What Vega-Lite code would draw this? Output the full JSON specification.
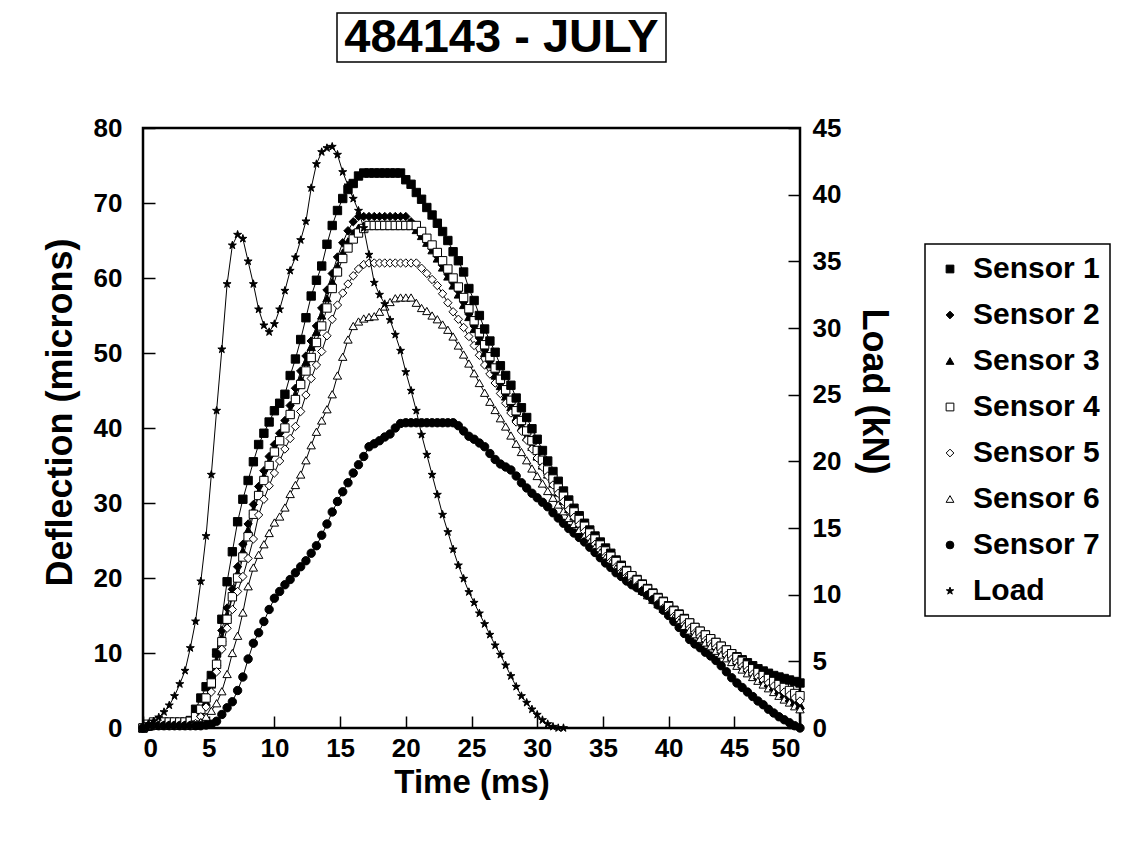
{
  "$schema": "https://vega.github.io/schema/vega-lite/v6.json",
  "background": "white",
  "padding": {"left": 40, "top": 12, "right": 5, "bottom": 5},
  "config": {
    "font": "Liberation Sans",
    "view": {"stroke": null},
    "axis": {"domain": false, "grid": false, "ticks": true, "tickColor": "black", "tickWidth": 1.5, "tickSize": -12, "labelFont": "Liberation Sans", "labelFontSize": 26, "labelFontWeight": "bold", "labelColor": "black", "titleFont": "Liberation Sans", "titleFontWeight": "bold", "titleColor": "black", "titleFontSize": 36},
    "axisLeft": {"labelPadding": 33, "titlePadding": 14},
    "axisRight": {"labelPadding": 24, "titlePadding": 14},
    "axisBottom": {"labelPadding": 19, "titlePadding": 5, "titleFontSize": 33},
    "legend": {"strokeColor": "black", "strokeWidth": 1.5, "padding": 10, "labelFont": "Liberation Sans", "labelFontSize": 30, "labelFontWeight": "bold", "labelColor": "black", "symbolSize": 60, "symbolStrokeColor": "black", "symbolStrokeWidth": 1, "rowPadding": 16}
  },
  "resolve": {"scale": {"shape": "independent", "fill": "independent", "stroke": "independent"}},
  "datasets": {
    "d": [
      {"t":0,"s1":0,"s2":0,"s3":0,"s4":0,"s5":0,"s6":0,"s7":0,"L":0},
      {"t":0.4,"s1":0.3,"s2":0.3,"s3":0.2,"s4":0.5,"s5":0.3,"s6":0.2,"s7":0.2,"L":0.3},
      {"t":0.8,"s1":0.5,"s2":0.4,"s3":0.3,"s4":0.8,"s5":0.4,"s6":0.3,"s7":0.3,"L":0.5},
      {"t":1.2,"s1":0.5,"s2":0.4,"s3":0.3,"s4":0.8,"s5":0.4,"s6":0.3,"s7":0.3,"L":0.8},
      {"t":1.6,"s1":0.6,"s2":0.4,"s3":0.3,"s4":0.8,"s5":0.4,"s6":0.3,"s7":0.3,"L":1.2},
      {"t":2.0,"s1":0.6,"s2":0.4,"s3":0.3,"s4":0.8,"s5":0.4,"s6":0.3,"s7":0.3,"L":1.7},
      {"t":2.4,"s1":0.6,"s2":0.5,"s3":0.3,"s4":0.8,"s5":0.4,"s6":0.3,"s7":0.3,"L":2.4},
      {"t":2.8,"s1":0.6,"s2":0.5,"s3":0.3,"s4":0.8,"s5":0.4,"s6":0.3,"s7":0.3,"L":3.3},
      {"t":3.2,"s1":0.7,"s2":0.5,"s3":0.4,"s4":0.8,"s5":0.4,"s6":0.3,"s7":0.3,"L":4.3},
      {"t":3.6,"s1":1.0,"s2":0.6,"s3":0.4,"s4":0.9,"s5":0.4,"s6":0.3,"s7":0.3,"L":6.0},
      {"t":4.0,"s1":2.5,"s2":1.0,"s3":0.8,"s4":1.5,"s5":0.6,"s6":0.3,"s7":0.3,"L":8.0},
      {"t":4.4,"s1":4.0,"s2":2.5,"s3":2.0,"s4":2.5,"s5":1.5,"s6":0.8,"s7":0.3,"L":11.0},
      {"t":4.8,"s1":5.5,"s2":4.0,"s3":3.5,"s4":4.0,"s5":2.8,"s6":1.5,"s7":0.4,"L":14.4},
      {"t":5.2,"s1":7.0,"s2":6.5,"s3":5.8,"s4":6.0,"s5":4.8,"s6":2.3,"s7":0.5,"L":19.0},
      {"t":5.6,"s1":10.0,"s2":9.8,"s3":8.8,"s4":8.5,"s5":7.5,"s6":3.3,"s7":0.9,"L":23.8},
      {"t":6.0,"s1":14.5,"s2":13.0,"s3":12.0,"s4":11.5,"s5":10.5,"s6":4.9,"s7":1.8,"L":28.4},
      {"t":6.4,"s1":19.5,"s2":16.0,"s3":15.0,"s4":14.5,"s5":13.3,"s6":7.2,"s7":2.7,"L":33.3},
      {"t":6.8,"s1":23.5,"s2":18.5,"s3":17.8,"s4":17.5,"s5":15.8,"s6":10.0,"s7":3.5,"L":36.2},
      {"t":7.2,"s1":27.5,"s2":21.5,"s3":20.6,"s4":20.0,"s5":18.2,"s6":12.3,"s7":5.0,"L":37.0},
      {"t":7.6,"s1":30.5,"s2":24.5,"s3":23.6,"s4":22.8,"s5":20.2,"s6":15.4,"s7":6.8,"L":36.7},
      {"t":8.0,"s1":33.0,"s2":27.2,"s3":26.4,"s4":25.5,"s5":22.6,"s6":18.9,"s7":9.2,"L":35.0},
      {"t":8.4,"s1":35.5,"s2":29.8,"s3":29.0,"s4":28.5,"s5":25.2,"s6":21.4,"s7":11.3,"L":33.3},
      {"t":8.8,"s1":37.8,"s2":32.2,"s3":31.4,"s4":31.0,"s5":28.4,"s6":23.1,"s7":12.7,"L":31.4},
      {"t":9.2,"s1":39.3,"s2":34.3,"s3":33.5,"s4":33.0,"s5":30.5,"s6":24.5,"s7":14.2,"L":30.2},
      {"t":9.6,"s1":40.8,"s2":36.2,"s3":35.4,"s4":35.0,"s5":32.3,"s6":26.0,"s7":15.8,"L":29.7},
      {"t":10.0,"s1":42.3,"s2":37.8,"s3":37.0,"s4":36.8,"s5":34.0,"s6":27.4,"s7":17.3,"L":30.3},
      {"t":10.4,"s1":43.3,"s2":39.3,"s3":38.6,"s4":38.3,"s5":35.6,"s6":28.2,"s7":18.2,"L":31.4},
      {"t":10.8,"s1":44.5,"s2":41.0,"s3":40.3,"s4":40.0,"s5":37.2,"s6":29.4,"s7":19.1,"L":32.8},
      {"t":11.2,"s1":47.0,"s2":43.0,"s3":42.2,"s4":41.8,"s5":38.6,"s6":31.2,"s7":19.8,"L":34.3},
      {"t":11.6,"s1":49.2,"s2":45.3,"s3":44.4,"s4":43.8,"s5":40.2,"s6":32.4,"s7":20.7,"L":35.3},
      {"t":12.0,"s1":51.8,"s2":47.6,"s3":46.6,"s4":45.8,"s5":42.2,"s6":33.8,"s7":21.5,"L":36.6},
      {"t":12.4,"s1":54.7,"s2":49.6,"s3":48.8,"s4":47.6,"s5":44.4,"s6":35.7,"s7":22.3,"L":38.0},
      {"t":12.8,"s1":57.6,"s2":51.6,"s3":50.8,"s4":49.4,"s5":46.6,"s6":37.7,"s7":23.3,"L":40.5},
      {"t":13.2,"s1":59.7,"s2":53.6,"s3":52.8,"s4":51.4,"s5":48.4,"s6":39.5,"s7":24.3,"L":42.3},
      {"t":13.6,"s1":61.6,"s2":56.0,"s3":55.0,"s4":53.6,"s5":50.2,"s6":41.0,"s7":25.7,"L":43.2},
      {"t":14.0,"s1":64.5,"s2":58.4,"s3":57.3,"s4":56.0,"s5":52.3,"s6":42.5,"s7":27.2,"L":43.5},
      {"t":14.4,"s1":67.0,"s2":60.6,"s3":59.5,"s4":58.6,"s5":54.5,"s6":44.5,"s7":28.8,"L":43.6},
      {"t":14.8,"s1":69.0,"s2":62.8,"s3":61.6,"s4":60.8,"s5":56.4,"s6":47.0,"s7":30.2,"L":43.0},
      {"t":15.2,"s1":70.6,"s2":64.7,"s3":63.4,"s4":62.6,"s5":58.0,"s6":49.5,"s7":31.5,"L":41.7},
      {"t":15.6,"s1":71.8,"s2":66.3,"s3":64.9,"s4":64.0,"s5":59.2,"s6":51.8,"s7":32.7,"L":40.7},
      {"t":16.0,"s1":72.6,"s2":67.5,"s3":66.0,"s4":65.2,"s5":60.3,"s6":53.6,"s7":34.0,"L":39.7},
      {"t":16.4,"s1":73.6,"s2":68.2,"s3":66.7,"s4":66.0,"s5":61.2,"s6":54.2,"s7":35.1,"L":38.8},
      {"t":16.8,"s1":74.0,"s2":68.2,"s3":67.0,"s4":66.6,"s5":61.8,"s6":54.6,"s7":36.2,"L":37.5},
      {"t":17.2,"s1":74.0,"s2":68.2,"s3":67.0,"s4":67.0,"s5":62.0,"s6":54.8,"s7":37.5,"L":35.5},
      {"t":17.6,"s1":74.0,"s2":68.2,"s3":67.0,"s4":67.0,"s5":62.0,"s6":54.9,"s7":37.9,"L":33.4},
      {"t":18.0,"s1":74.0,"s2":68.2,"s3":67.0,"s4":67.0,"s5":62.0,"s6":55.5,"s7":38.3,"L":32.5},
      {"t":18.4,"s1":74.0,"s2":68.2,"s3":67.0,"s4":67.0,"s5":62.0,"s6":56.2,"s7":38.8,"L":31.8},
      {"t":18.8,"s1":74.0,"s2":68.2,"s3":67.0,"s4":67.0,"s5":62.0,"s6":56.8,"s7":39.2,"L":30.6},
      {"t":19.2,"s1":74.0,"s2":68.2,"s3":67.0,"s4":67.0,"s5":62.0,"s6":57.3,"s7":40.0,"L":29.5},
      {"t":19.6,"s1":74.0,"s2":68.2,"s3":67.0,"s4":67.0,"s5":62.0,"s6":57.4,"s7":40.6,"L":28.3},
      {"t":20.0,"s1":73.1,"s2":68.2,"s3":67.0,"s4":67.0,"s5":62.0,"s6":57.4,"s7":40.7,"L":26.7},
      {"t":20.4,"s1":72.5,"s2":67.5,"s3":67.0,"s4":67.0,"s5":62.0,"s6":57.4,"s7":40.7,"L":25.3},
      {"t":20.8,"s1":71.4,"s2":66.6,"s3":66.4,"s4":67.0,"s5":62.0,"s6":56.7,"s7":40.7,"L":23.8},
      {"t":21.2,"s1":70.5,"s2":65.7,"s3":65.6,"s4":66.2,"s5":61.3,"s6":56.0,"s7":40.7,"L":22.0},
      {"t":21.6,"s1":69.4,"s2":64.8,"s3":64.7,"s4":65.3,"s5":60.6,"s6":55.6,"s7":40.7,"L":20.5},
      {"t":22.0,"s1":68.4,"s2":63.9,"s3":63.7,"s4":64.4,"s5":59.8,"s6":55.0,"s7":40.7,"L":19.0},
      {"t":22.4,"s1":67.3,"s2":62.9,"s3":62.6,"s4":63.4,"s5":59.0,"s6":54.5,"s7":40.7,"L":17.5},
      {"t":22.8,"s1":66.2,"s2":61.7,"s3":61.4,"s4":62.3,"s5":57.9,"s6":53.8,"s7":40.7,"L":16.0},
      {"t":23.2,"s1":65.0,"s2":60.5,"s3":60.2,"s4":61.2,"s5":56.7,"s6":53.1,"s7":40.7,"L":14.7},
      {"t":23.6,"s1":63.5,"s2":59.4,"s3":59.0,"s4":60.0,"s5":55.5,"s6":52.2,"s7":40.7,"L":13.4},
      {"t":24.0,"s1":62.3,"s2":58.3,"s3":57.8,"s4":58.8,"s5":54.5,"s6":51.0,"s7":40.3,"L":12.2},
      {"t":24.4,"s1":60.8,"s2":56.8,"s3":56.4,"s4":57.4,"s5":53.4,"s6":49.8,"s7":39.6,"L":11.2},
      {"t":24.8,"s1":58.6,"s2":55.2,"s3":54.8,"s4":55.9,"s5":52.2,"s6":48.6,"s7":38.9,"L":10.2},
      {"t":25.2,"s1":57.0,"s2":53.6,"s3":53.2,"s4":54.3,"s5":51.0,"s6":47.3,"s7":38.5,"L":9.4},
      {"t":25.6,"s1":55.0,"s2":52.0,"s3":51.6,"s4":52.7,"s5":49.7,"s6":46.0,"s7":38.0,"L":8.6},
      {"t":26.0,"s1":53.2,"s2":50.4,"s3":50.0,"s4":51.1,"s5":48.4,"s6":44.7,"s7":37.5,"L":7.8},
      {"t":26.4,"s1":51.6,"s2":48.9,"s3":48.5,"s4":49.5,"s5":47.2,"s6":43.5,"s7":36.6,"L":7.0},
      {"t":26.8,"s1":50.1,"s2":47.4,"s3":47.0,"s4":48.0,"s5":46.0,"s6":42.4,"s7":35.8,"L":6.2},
      {"t":27.2,"s1":48.3,"s2":46.0,"s3":45.6,"s4":46.5,"s5":44.6,"s6":41.3,"s7":35.2,"L":5.5},
      {"t":27.6,"s1":47.0,"s2":44.6,"s3":44.2,"s4":45.1,"s5":43.3,"s6":40.2,"s7":34.8,"L":4.7},
      {"t":28.0,"s1":45.7,"s2":43.2,"s3":42.8,"s4":43.7,"s5":42.0,"s6":39.0,"s7":34.4,"L":3.9},
      {"t":28.4,"s1":44.0,"s2":41.8,"s3":41.4,"s4":42.3,"s5":40.8,"s6":37.9,"s7":33.6,"L":3.1},
      {"t":28.8,"s1":42.7,"s2":40.6,"s3":40.1,"s4":41.0,"s5":39.6,"s6":36.8,"s7":32.7,"L":2.4},
      {"t":29.2,"s1":41.4,"s2":39.3,"s3":38.8,"s4":39.6,"s5":38.4,"s6":35.7,"s7":32.0,"L":1.9},
      {"t":29.6,"s1":39.9,"s2":38.0,"s3":37.5,"s4":38.3,"s5":37.2,"s6":34.6,"s7":31.3,"L":1.4},
      {"t":30.0,"s1":38.5,"s2":36.7,"s3":36.2,"s4":37.0,"s5":36.0,"s6":33.6,"s7":30.7,"L":1.0},
      {"t":30.4,"s1":37.0,"s2":35.4,"s3":35.0,"s4":35.7,"s5":34.8,"s6":32.6,"s7":30.1,"L":0.6},
      {"t":30.8,"s1":35.6,"s2":34.1,"s3":33.8,"s4":34.4,"s5":33.6,"s6":31.6,"s7":29.5,"L":0.3},
      {"t":31.2,"s1":34.2,"s2":32.9,"s3":32.6,"s4":33.2,"s5":32.4,"s6":30.7,"s7":28.7,"L":0.1},
      {"t":31.6,"s1":32.9,"s2":31.7,"s3":31.4,"s4":32.0,"s5":31.3,"s6":29.8,"s7":28.0,"L":0.0},
      {"t":32.0,"s1":31.6,"s2":30.6,"s3":30.3,"s4":30.9,"s5":30.2,"s6":28.9,"s7":27.3,"L":0.0},
      {"t":32.4,"s1":30.4,"s2":29.5,"s3":29.2,"s4":29.8,"s5":29.1,"s6":28.0,"s7":26.6},
      {"t":32.8,"s1":29.3,"s2":28.4,"s3":28.2,"s4":28.8,"s5":28.1,"s6":27.2,"s7":26.0},
      {"t":33.2,"s1":28.3,"s2":27.4,"s3":27.2,"s4":27.8,"s5":27.1,"s6":26.4,"s7":25.4},
      {"t":33.6,"s1":27.3,"s2":26.5,"s3":26.3,"s4":26.9,"s5":26.2,"s6":25.6,"s7":24.8},
      {"t":34.0,"s1":26.4,"s2":25.6,"s3":25.4,"s4":26.0,"s5":25.3,"s6":24.8,"s7":24.1},
      {"t":34.4,"s1":25.6,"s2":24.8,"s3":24.6,"s4":25.2,"s5":24.5,"s6":24.1,"s7":23.4},
      {"t":34.8,"s1":24.8,"s2":24.0,"s3":23.8,"s4":24.4,"s5":23.7,"s6":23.4,"s7":22.7},
      {"t":35.2,"s1":24.0,"s2":23.2,"s3":23.0,"s4":23.6,"s5":22.9,"s6":22.7,"s7":22.0},
      {"t":35.6,"s1":23.3,"s2":22.5,"s3":22.3,"s4":22.9,"s5":22.2,"s6":22.0,"s7":21.4},
      {"t":36.0,"s1":22.4,"s2":21.8,"s3":21.6,"s4":22.2,"s5":21.5,"s6":21.3,"s7":20.7},
      {"t":36.4,"s1":21.7,"s2":21.1,"s3":21.0,"s4":21.5,"s5":20.8,"s6":20.7,"s7":20.2},
      {"t":36.8,"s1":21.0,"s2":20.4,"s3":20.4,"s4":20.9,"s5":20.2,"s6":20.1,"s7":19.6},
      {"t":37.2,"s1":20.3,"s2":19.8,"s3":19.8,"s4":20.3,"s5":19.6,"s6":19.5,"s7":19.1},
      {"t":37.6,"s1":19.8,"s2":19.2,"s3":19.2,"s4":19.7,"s5":19.0,"s6":18.9,"s7":18.7},
      {"t":38.0,"s1":19.2,"s2":18.6,"s3":18.6,"s4":19.1,"s5":18.4,"s6":18.3,"s7":18.2},
      {"t":38.4,"s1":18.6,"s2":18.0,"s3":18.0,"s4":18.5,"s5":17.8,"s6":17.7,"s7":17.7},
      {"t":38.8,"s1":18.0,"s2":17.4,"s3":17.5,"s4":17.9,"s5":17.2,"s6":17.1,"s7":17.1},
      {"t":39.2,"s1":17.4,"s2":16.8,"s3":17.0,"s4":17.3,"s5":16.6,"s6":16.5,"s7":16.4},
      {"t":39.6,"s1":16.9,"s2":16.2,"s3":16.4,"s4":16.8,"s5":16.0,"s6":15.9,"s7":15.7},
      {"t":40.0,"s1":16.3,"s2":15.6,"s3":15.9,"s4":16.2,"s5":15.5,"s6":15.3,"s7":15.0},
      {"t":40.4,"s1":15.7,"s2":15.0,"s3":15.3,"s4":15.6,"s5":14.9,"s6":14.7,"s7":14.2},
      {"t":40.8,"s1":15.2,"s2":14.4,"s3":14.8,"s4":15.1,"s5":14.4,"s6":14.1,"s7":13.4},
      {"t":41.2,"s1":14.6,"s2":13.8,"s3":14.2,"s4":14.5,"s5":13.8,"s6":13.6,"s7":12.6},
      {"t":41.6,"s1":14.0,"s2":13.2,"s3":13.7,"s4":14.0,"s5":13.3,"s6":13.0,"s7":11.8},
      {"t":42.0,"s1":13.4,"s2":12.6,"s3":13.1,"s4":13.4,"s5":12.7,"s6":12.5,"s7":11.2},
      {"t":42.4,"s1":12.9,"s2":12.1,"s3":12.6,"s4":12.9,"s5":12.2,"s6":11.9,"s7":10.7},
      {"t":42.8,"s1":12.4,"s2":11.6,"s3":12.1,"s4":12.4,"s5":11.7,"s6":11.4,"s7":10.1},
      {"t":43.2,"s1":11.9,"s2":11.1,"s3":11.5,"s4":11.9,"s5":11.2,"s6":10.9,"s7":9.6},
      {"t":43.6,"s1":11.4,"s2":10.6,"s3":11.0,"s4":11.4,"s5":10.7,"s6":10.3,"s7":9.0},
      {"t":44.0,"s1":10.9,"s2":10.1,"s3":10.5,"s4":10.9,"s5":10.2,"s6":9.8,"s7":8.3},
      {"t":44.4,"s1":10.4,"s2":9.6,"s3":10.0,"s4":10.4,"s5":9.7,"s6":9.3,"s7":7.5},
      {"t":44.8,"s1":9.9,"s2":9.1,"s3":9.5,"s4":9.9,"s5":9.2,"s6":8.8,"s7":6.7},
      {"t":45.2,"s1":9.5,"s2":8.6,"s3":9.0,"s4":9.4,"s5":8.7,"s6":8.3,"s7":6.0},
      {"t":45.6,"s1":9.1,"s2":8.1,"s3":8.5,"s4":8.9,"s5":8.2,"s6":7.8,"s7":5.4},
      {"t":46.0,"s1":8.7,"s2":7.6,"s3":8.0,"s4":8.4,"s5":7.7,"s6":7.3,"s7":4.8},
      {"t":46.4,"s1":8.3,"s2":7.1,"s3":7.5,"s4":7.9,"s5":7.2,"s6":6.8,"s7":4.2},
      {"t":46.8,"s1":7.9,"s2":6.6,"s3":7.0,"s4":7.4,"s5":6.8,"s6":6.3,"s7":3.6},
      {"t":47.2,"s1":7.6,"s2":6.1,"s3":6.5,"s4":7.0,"s5":6.4,"s6":5.8,"s7":3.1},
      {"t":47.6,"s1":7.3,"s2":5.6,"s3":6.0,"s4":6.6,"s5":6.0,"s6":5.3,"s7":2.5},
      {"t":48.0,"s1":7.0,"s2":5.1,"s3":5.5,"s4":6.2,"s5":5.6,"s6":4.8,"s7":2.0},
      {"t":48.4,"s1":6.8,"s2":4.6,"s3":5.0,"s4":5.8,"s5":5.2,"s6":4.3,"s7":1.5},
      {"t":48.8,"s1":6.6,"s2":4.1,"s3":4.5,"s4":5.4,"s5":4.8,"s6":3.8,"s7":1.1},
      {"t":49.2,"s1":6.4,"s2":3.6,"s3":4.0,"s4":5.0,"s5":4.4,"s6":3.4,"s7":0.7},
      {"t":49.6,"s1":6.2,"s2":3.1,"s3":3.5,"s4":4.6,"s5":4.0,"s6":2.9,"s7":0.3},
      {"t":50.0,"s1":6.0,"s2":2.6,"s3":3.1,"s4":4.3,"s5":3.6,"s6":2.5,"s7":0.0}
    ]
  },
  "spacing": 50,
  "vconcat": [
    {
      "spacing": 0,
      "hconcat": [
        {
          "width": 193, "height": 49,
          "view": {"stroke": null},
          "data": {"values": [{"a": 1}]},
          "mark": {"type": "point", "opacity": 0}
        },
        {
          "width": 329, "height": 49,
          "view": {"stroke": "black", "strokeWidth": 1.5},
          "data": {"values": [{"label": "484143 - JULY"}]},
          "mark": {"type": "text", "font": "Liberation Sans", "fontSize": 47, "fontWeight": "bold", "color": "black", "align": "center", "baseline": "middle"},
          "encoding": {"text": {"field": "label", "type": "nominal"}}
        }
      ]
    },
    {
      "width": 657, "height": 600,
      "view": {"stroke": "black", "strokeWidth": 2.5},
      "data": {"name": "d"},
      "transform": [{"fold": ["s1", "s2", "s3", "s4", "s5", "s6", "s7", "L"], "as": ["series", "value"]}],
      "encoding": {
        "x": {"field": "t", "type": "quantitative", "scale": {"domain": [0, 50], "nice": false}, "axis": {"title": "Time (ms)", "values": [0, 5, 10, 15, 20, 25, 30, 35, 40, 45, 50]}}
      },
      "layer": [
        {
          "transform": [{"filter": "datum.series != 'L'"}],
          "encoding": {"y": {"field": "value", "type": "quantitative", "scale": {"domain": [0, 80], "nice": false}, "axis": {"title": "Deflection (microns)", "titleY": 284, "values": [0, 10, 20, 30, 40, 50, 60, 70, 80]}}},
          "layer": [
            {"mark": {"type": "line", "color": "black", "strokeWidth": 1}, "encoding": {"detail": {"field": "series", "type": "nominal"}}},
            {
              "mark": {"type": "point", "filled": true, "size": 70, "opacity": 1, "strokeWidth": 1},
              "encoding": {
                "stroke": {"field": "series", "type": "nominal", "scale": {"domain": ["s1", "s2", "s3", "s4", "s5", "s6", "s7", "L"], "range": ["black", "black", "black", "black", "black", "black", "black", "black"]},
                  "legend": {"title": null, "orient": "none", "legendX": 782, "legendY": 116, "labelOffset": 8, "labelExpr": "datum.label == 'L' ? 'Load' : 'Sensor ' + substring(datum.label, 1)"}},
                "shape": {"field": "series", "type": "nominal", "scale": {"domain": ["s1", "s2", "s3", "s4", "s5", "s6", "s7", "L"], "range": ["square", "diamond", "triangle-up", "square", "diamond", "triangle-up", "circle", "M0,-1L0.2245,-0.309L0.9511,-0.309L0.3633,0.118L0.5878,0.809L0,0.382L-0.5878,0.809L-0.3633,0.118L-0.9511,-0.309L-0.2245,-0.309Z"]},
                  "legend": {"title": null, "orient": "none", "legendX": 782, "legendY": 116, "labelOffset": 8, "labelExpr": "datum.label == 'L' ? 'Load' : 'Sensor ' + substring(datum.label, 1)"}},
                "fill": {"field": "series", "type": "nominal", "scale": {"domain": ["s1", "s2", "s3", "s4", "s5", "s6", "s7", "L"], "range": ["black", "black", "black", "white", "white", "white", "black", "black"]},
                  "legend": {"title": null, "orient": "none", "legendX": 782, "legendY": 116, "labelOffset": 8, "labelExpr": "datum.label == 'L' ? 'Load' : 'Sensor ' + substring(datum.label, 1)"}}
              }
            }
          ]
        },
        {
          "transform": [{"filter": "datum.series == 'L' && isValid(datum.value)"}],
          "encoding": {"y": {"field": "value", "type": "quantitative", "scale": {"domain": [0, 45], "nice": false}, "axis": {"orient": "right", "title": "Load (kN)", "titleY": 263, "values": [0, 5, 10, 15, 20, 25, 30, 35, 40, 45]}}},
          "layer": [
            {"mark": {"type": "line", "color": "black", "strokeWidth": 1}, "encoding": {}},
            {"mark": {"type": "point", "filled": true, "fill": "black", "stroke": "black", "strokeWidth": 1, "size": 70, "opacity": 1, "shape": "M0,-1L0.2245,-0.309L0.9511,-0.309L0.3633,0.118L0.5878,0.809L0,0.382L-0.5878,0.809L-0.3633,0.118L-0.9511,-0.309L-0.2245,-0.309Z"}, "encoding": {}}
          ]
        }
      ],
      "resolve": {"scale": {"y": "independent"}}
    }
  ]
}
